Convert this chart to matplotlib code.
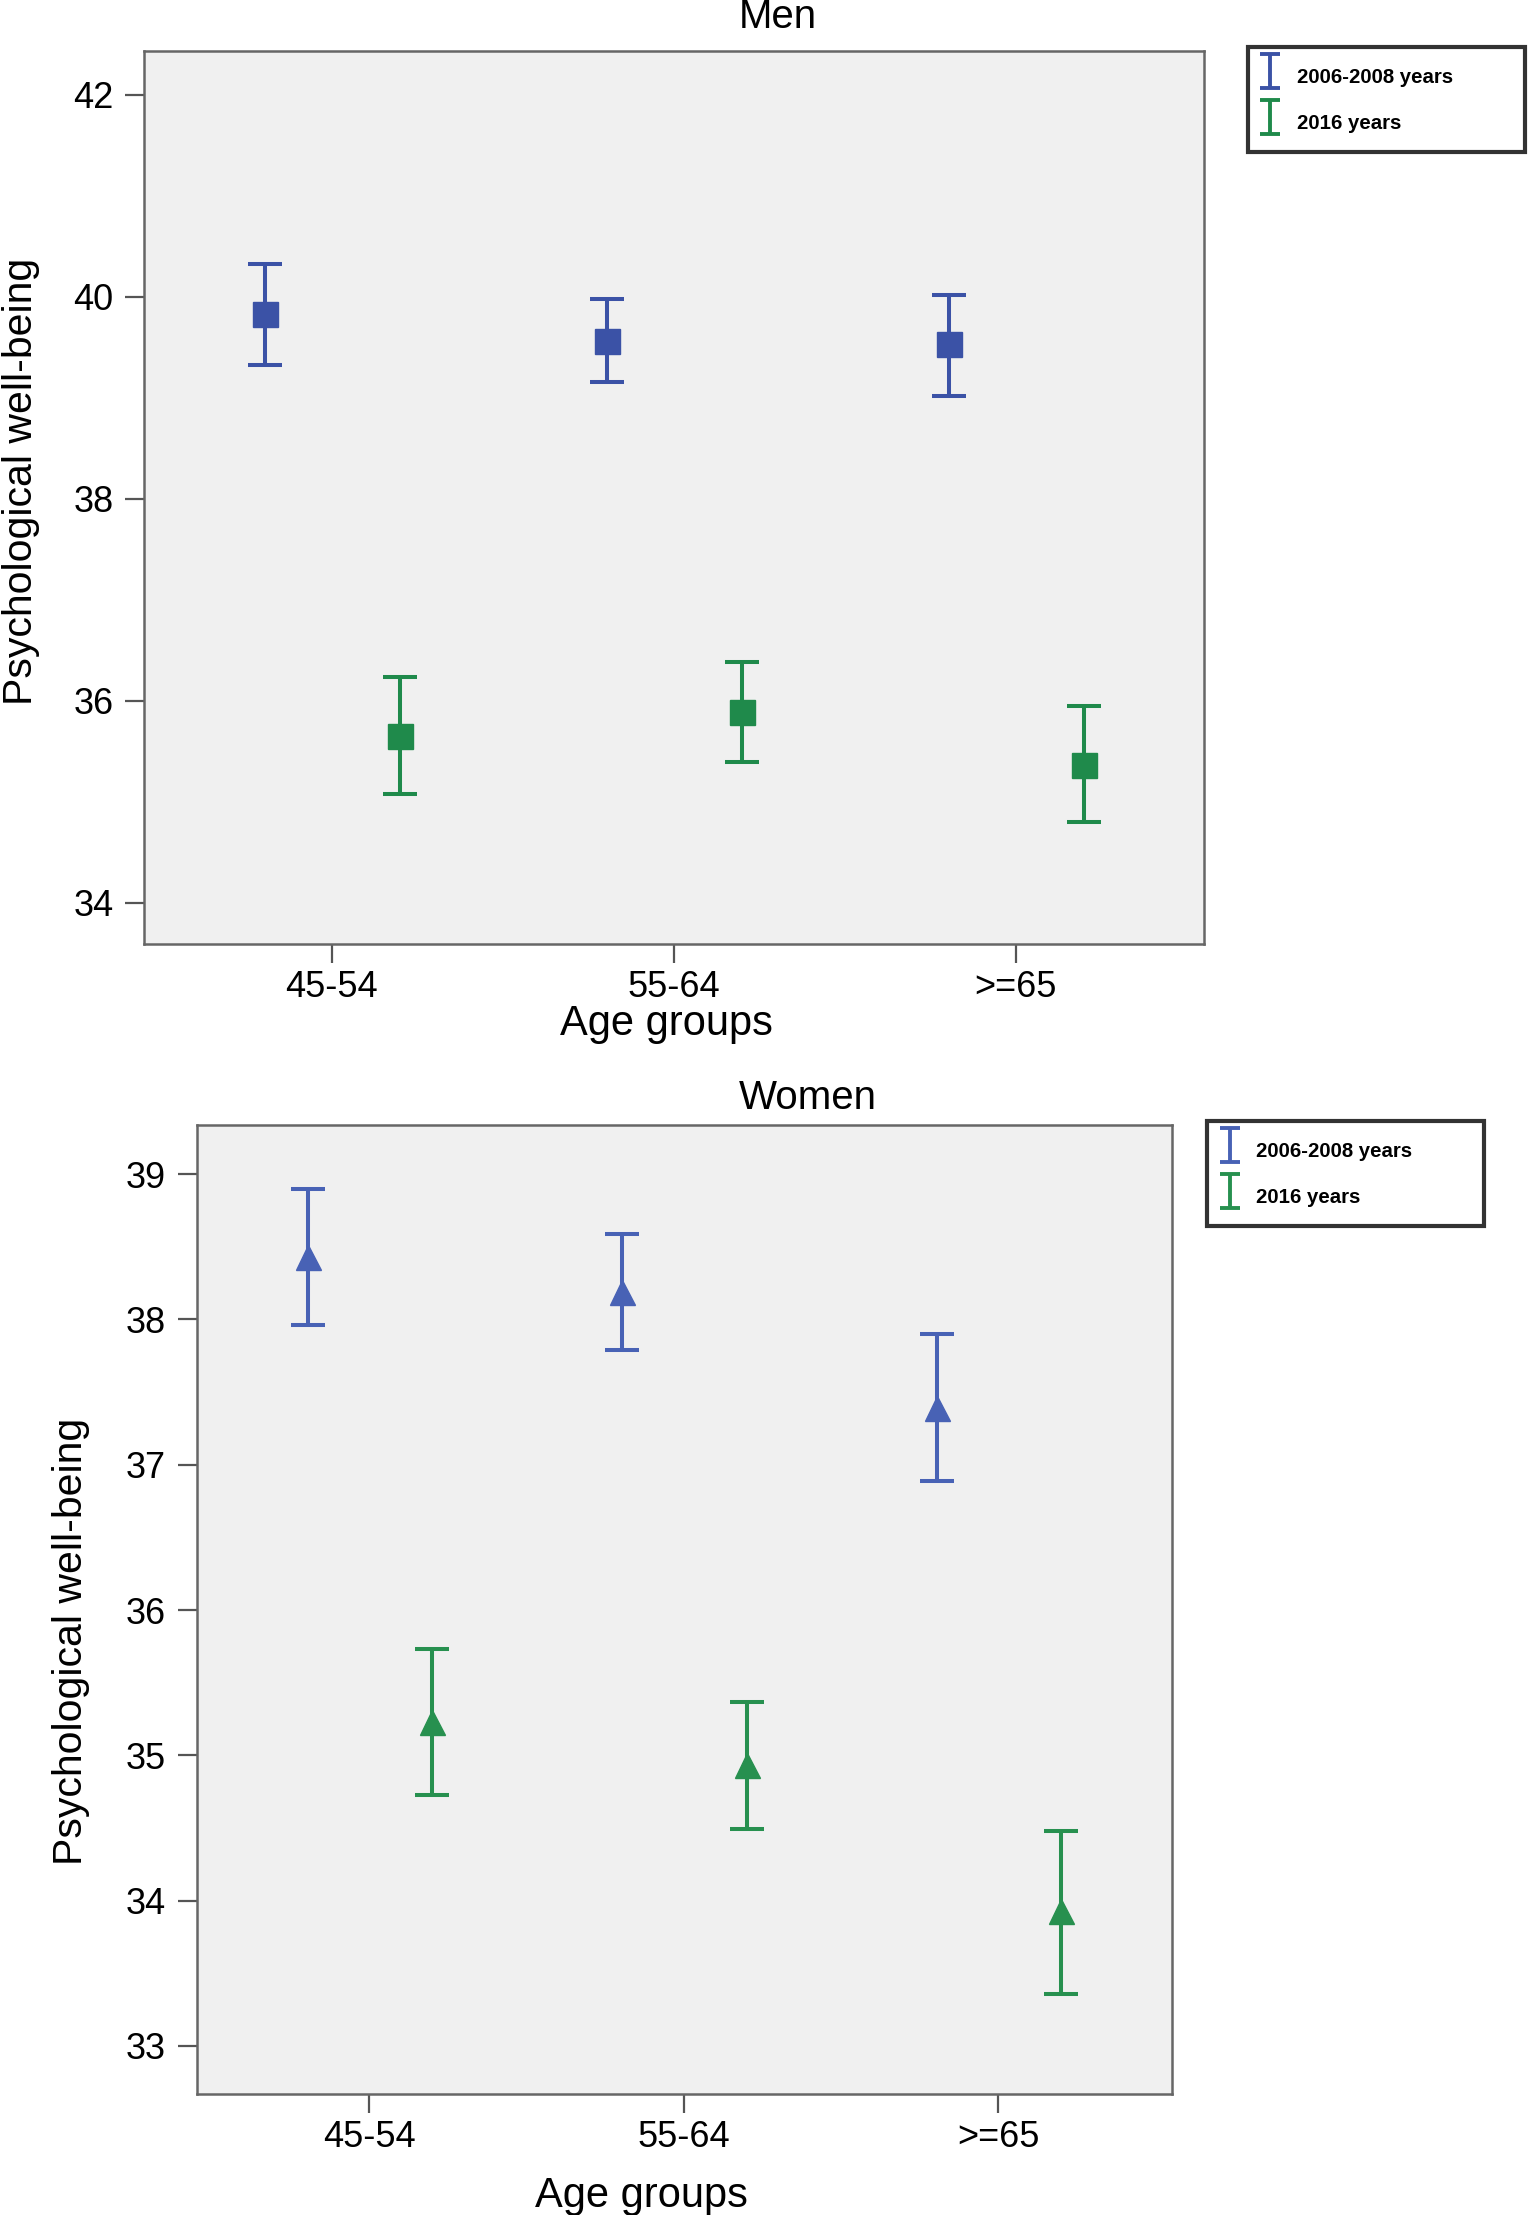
import matplotlib
matplotlib.use('Agg')
import matplotlib.pyplot as plt
import numpy as np
from matplotlib.container import ErrorbarContainer
from matplotlib.legend_handler import HandlerErrorbar

plt.rcParams['font.family'] = ['Liberation Sans', 'DejaVu Sans']

# data (mean and 95% CI bounds)
groups = ['45-54', '55-64', '>=65']
series = ['2006-2008 years', '2016 years']

men_0608 = [39.83, 39.56, 39.53]
men_0608_lo = [39.32, 39.16, 39.02]
men_0608_hi = [40.32, 39.98, 40.02]
men_2016 = [35.65, 35.89, 35.36]
men_2016_lo = [35.08, 35.39, 34.80]
men_2016_hi = [36.23, 36.38, 35.95]

women_0608 = [38.43, 38.19, 37.39]
women_0608_lo = [37.96, 37.79, 36.89]
women_0608_hi = [38.90, 38.59, 37.90]
women_2016 = [35.23, 34.93, 33.93]
women_2016_lo = [34.73, 34.49, 33.36]
women_2016_hi = [35.73, 35.37, 34.48]

men_yticks = [34, 36, 38, 40, 42]
women_yticks = [33, 34, 35, 36, 37, 38, 39]

blue = '#3b52a6'
green = '#1f8a4b'
blue2 = '#4862b5'
green2 = '#27904f'

fig = plt.figure(figsize=(15.28, 22.15), dpi=100)


def panel(rect, title, title_xy, yl, yticks, data, marker, colors, ylab_xy, xlab_xy, leg_rect):
    ax = fig.add_axes(rect)
    ax.set_facecolor('#f0f0f0')
    x = np.arange(len(groups))
    offs = [-0.195, 0.2]
    for k, (m, lo, hi) in enumerate(data):
        m = np.array(m)
        err = [m - np.array(lo), np.array(hi) - m]
        ax.errorbar(x + offs[k], m, yerr=err, fmt=marker, color=colors[k], ms=18,
                    ecolor=colors[k], elinewidth=2.9, capsize=12.2, capthick=2.9, zorder=3)
    ax.set_xlim(-0.548, 2.55)
    ax.set_ylim(*yl)
    ax.set_xticks(x)
    ax.set_xticklabels(groups)
    ax.set_yticks(yticks)
    ax.tick_params(direction='out', length=14, width=1.6, color='#555555', labelsize=26, pad=5)
    ax.tick_params(axis='y', pad=8)
    for s in ax.spines.values():
        s.set_color('#666666')
        s.set_linewidth(1.8)
    ax.set_xlabel('Age groups', fontsize=30)
    ax.set_ylabel('Psychological well-being', fontsize=29.5)
    ax.yaxis.set_label_coords(*ylab_xy)
    ax.xaxis.set_label_coords(*xlab_xy)
    fig.text(title_xy[0], title_xy[1], title, fontsize=29, ha='center', va='center')

    # legend proxies: plain error bar glyphs
    handles = []
    for c in colors:
        h = ax.errorbar([np.nan], [np.nan], yerr=[1], fmt='none', ecolor=c,
                        elinewidth=2.8, capsize=7, capthick=2.8)
        handles.append(h)
    leg = fig.legend(handles, series, loc='upper left', bbox_to_anchor=leg_rect,
                     mode='expand', prop={'size': 14.7, 'weight': 'bold'}, frameon=True,
                     fancybox=False, handlelength=1.0, handleheight=2.25, labelspacing=0.55,
                     borderpad=0.6, handletextpad=0.8, borderaxespad=0,
                     handler_map={ErrorbarContainer: HandlerErrorbar(yerr_size=0.84)})
    leg.get_frame().set_edgecolor('black')
    leg.get_frame().set_linewidth(3)
    return ax


panel([0.0944, 0.574, 0.6936, 0.403], 'Men', (0.509, 0.9923), (33.594, 42.434),
      men_yticks,
      [(men_0608, men_0608_lo, men_0608_hi), (men_2016, men_2016_lo, men_2016_hi)],
      's', [blue, green], (-0.098, 0.518), (0.493, -0.068),
      (0.8167, 0.932, 0.1813, 0.047))

panel([0.1287, 0.0547, 0.638, 0.4375], 'Women', (0.5287, 0.5043), (32.67, 39.34),
      women_yticks,
      [(women_0608, women_0608_lo, women_0608_hi), (women_2016, women_2016_lo, women_2016_hi)],
      '^', [blue2, green2], (-0.109, 0.467), (0.456, -0.0846),
      (0.790, 0.446, 0.181, 0.048))

fig.savefig('out.png', dpi=100)
